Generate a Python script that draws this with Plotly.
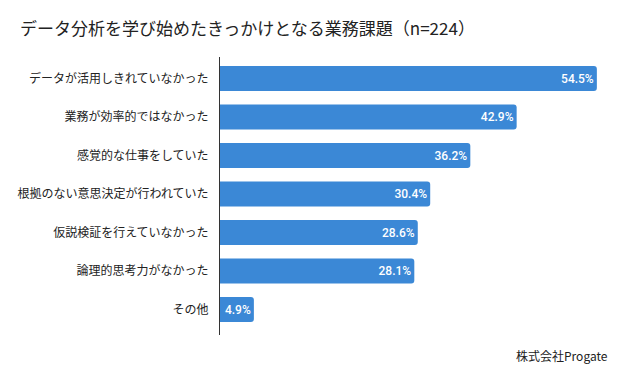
import plotly.graph_objects as go

categories = ["データが活用しきれていなかった", "業務が効率的ではなかった", "感覚的な仕事をしていた",
              "根拠のない意思決定が行われていた", "仮説検証を行えていなかった", "論理的思考力がなかった", "その他"]
values = [54.5, 42.9, 36.2, 30.4, 28.6, 28.1, 4.9]
labels = [f"{v}%" for v in values]

# page body has an 8px margin, so the figure is drawn 8px smaller and offset
fig = go.Figure(go.Bar(
    x=values, y=categories, orientation="h",
    marker=dict(color="#3b88d6", line=dict(width=0)),
    text=labels, textposition="inside", insidetextanchor="end",
    textfont=dict(color="white", size=12, family="Roboto", weight=500),
    cliponaxis=False,
))
fig.update_layout(
    width=621, height=370,
    margin=dict(l=212, r=19, t=49, b=43, autoexpand=False),
    paper_bgcolor="white", plot_bgcolor="white",
    bargap=0.35, barcornerradius=3,
    showlegend=False,
    title=dict(text="データ分析を学び始めたきっかけとなる業務課題（n=224）",
               x=12/621, xanchor="left", y=1 - 21/370, yanchor="middle",
               font=dict(size=17, color="#222", family="Noto Sans CJK JP")),
    font=dict(family="Noto Sans CJK JP", color="#222"),
)
fig.update_xaxes(range=[0, 56.4], visible=False)
fig.update_yaxes(range=[6.66, -0.56], showline=True, linecolor="#333", linewidth=1, automargin=False,
                 ticks="", tickfont=dict(size=12, color="#222"), ticklabelstandoff=8, showgrid=False)
fig.add_annotation(text="株式会社Progate", xref="paper", yref="paper", x=1.0, y=-0.072,
                   xanchor="right", yanchor="middle", showarrow=False,
                   font=dict(size=12, color="#222", family="Noto Sans CJK JP"))
fig.write_html("out.html")
